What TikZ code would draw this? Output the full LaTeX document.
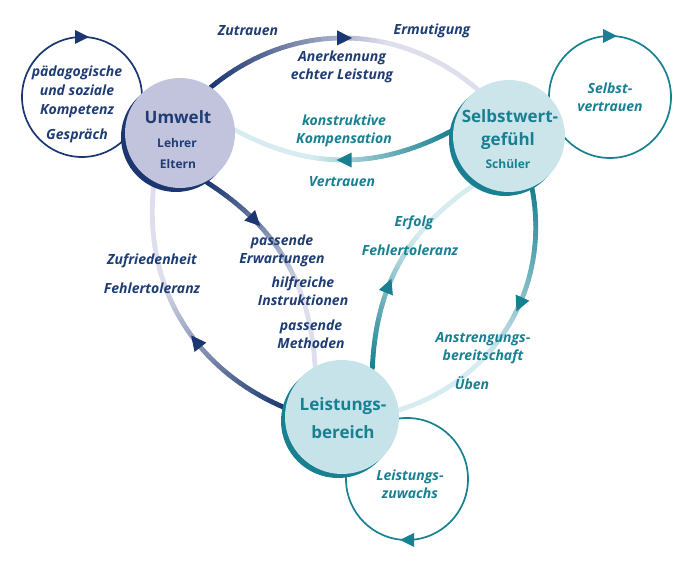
\documentclass[tikz,border=0pt]{standalone}
\usepackage{fontspec}
\setmainfont{Open Sans}
\usetikzlibrary{shadows,backgrounds,decorations.markings}

\definecolor{navy}{RGB}{27,54,112}
\definecolor{navytext}{RGB}{31,61,115}
\definecolor{lavlight}{RGB}{222,222,236}
\definecolor{teal}{RGB}{24,128,145}
\definecolor{teallight}{RGB}{214,236,240}
\definecolor{umfill}{RGB}{194,196,222}
\definecolor{swfill}{RGB}{203,229,235}
\definecolor{lbfill}{RGB}{198,227,233}

\tikzset{
	bubble/.style={circle, inner sep=0pt},
	title/.style={font=\bfseries\fontsize{17}{19}\selectfont},
	subtitle/.style={font=\bfseries\fontsize{12}{14}\selectfont},
	lbl/.style={font=\bfseries\itshape\fontsize{14}{18}\selectfont, align=center},
	link/.style={line width=4.8pt, line cap=round},
	loopline/.style={line width=1.7pt},
}

% fading connector: from, to, bend, dark colour, light colour, arrow position
\newcommand\fadelink[6]{%
	\foreach \k [evaluate={\k as \t using \k/40}] in {0,...,40}
		\path (#1) to[bend left=#3] coordinate[pos=\t] (f\k) (#2);
	\foreach \k [evaluate={\k as \p using int(max(0,100-3.85*\k))},
		evaluate={\k as \n using int(\k+1)}] in {0,...,39}
		\draw[link, #4!\p!#5] (f\k) -- (f\n);
	\path[decorate, decoration={markings, mark=at position #6 with
		{\fill[#4] (7.5pt,0) -- (-7.5pt,7.5pt) -- (-7.5pt,-7.5pt) -- cycle;}}]
		(#1) to[bend left=#3] (#2);
}

\begin{document}
\begin{tikzpicture}[x=1pt, y=1pt]

	\useasboundingbox (0,0) rectangle (694,572);

	% the three areas
	\node[bubble, fill=umfill, minimum size=110pt,
		drop shadow={shadow xshift=-4pt, shadow yshift=-4pt, fill=navy, opacity=1}]
		(um) at (180,439) {};
	\node[bubble, fill=swfill, minimum size=112pt,
		drop shadow={shadow xshift=-4pt, shadow yshift=-4pt, fill=teal, opacity=1}]
		(sw) at (509,436) {};
	\node[bubble, fill=lbfill, minimum size=114pt,
		drop shadow={shadow xshift=-4pt, shadow yshift=-4pt, fill=teal, opacity=1}]
		(lb) at (342,155) {};

	\node[title, text=navytext] (umT) at (178,455) {Umwelt};
	\node[subtitle, text=navytext] (umA) at (177,429) {Lehrer};
	\node[subtitle, text=navytext] (umB) at (178,408) {Eltern};
	\node[title, text=teal] (swT) at (510,456) {Selbstwert-};
	\node[title, text=teal] (swU) at (508,431) {gefühl};
	\node[subtitle, text=teal] (swA) at (508,408) {Schüler};
	\node[title, text=teal] (lbT) at (343,166) {Leistungs-};
	\node[title, text=teal] (lbU) at (343,140) {bereich};

	% loops
	\coordinate (lpum) at (82,475);
	\coordinate (lpsw) at (610,475);
	\coordinate (lplb) at (407,93);

	\begin{scope}[on background layer]
		\fadelink{um.56}{sw.124}{40}{navy}{lavlight}{0.5}
		\fadelink{sw.174}{um.3}{28}{teal}{teallight}{0.5}
		\fadelink{um.-62}{lb.118}{27}{navy}{lavlight}{0.28}
		\fadelink{lb.171}{um.242}{37}{navy}{lavlight}{0.4}
		\fadelink{sw.-66}{lb.7}{42}{teal}{teallight}{0.42}
		\fadelink{lb.58}{sw.236}{27}{teal}{teallight}{0.38}

		\draw[loopline, navy] (lpum) circle[radius=60];
		\fill[navy] (lpum) ++(7,60) -- ++(-14,7) -- ++(0,-14) -- cycle;
		\draw[loopline, teal] (lpsw) circle[radius=61];
		\fill[teal] (lpsw) ++(7,61) -- ++(-14,7) -- ++(0,-14) -- cycle;
		\draw[loopline, teal] (lplb) circle[radius=61];
		\fill[teal] (lplb) ++(-7,-61) -- ++(14,7) -- ++(0,-14) -- cycle;
	\end{scope}

	% labels
	\node[lbl, text=navytext] (l1) at (248,541) {Zutrauen};
	\node[lbl, text=navytext] (l2) at (432,541) {Ermutigung};
	\node[lbl, text=navytext] (l3) at (342,505) {Anerkennung\\echter Leistung};
	\node[lbl, text=teal] (l4) at (344,441) {konstruktive\\Kompensation};
	\node[lbl, text=teal] (l5) at (342,390) {Vertrauen};
	\node[lbl, text=navytext, font=\bfseries\itshape\fontsize{14}{19}\selectfont]
		(l6) at (77,480) {pädagogische\\und soziale\\Kompetenz};
	\node[lbl, text=navytext] (l7) at (77,436) {Gespräch};
	\node[lbl, text=teal] (l8) at (610,475) {Selbst-\\vertrauen};
	\node[lbl, text=navytext] (l9) at (282,321) {passende\\Erwartungen};
	\node[lbl, text=navytext] (l10) at (303,281) {hilfreiche\\Instruktionen};
	\node[lbl, text=navytext] (l11) at (311,238) {passende\\Methoden};
	\node[lbl, text=navytext] (l12) at (152,311) {Zufriedenheit};
	\node[lbl, text=navytext] (l13) at (152,284) {Fehlertoleranz};
	\node[lbl, text=teal] (l14) at (414,349) {Erfolg};
	\node[lbl, text=teal] (l15) at (410,322) {Fehlertoleranz};
	\node[lbl, text=teal] (l16) at (483,224) {Anstrengungs-\\bereitschaft};
	\node[lbl, text=teal] (l17) at (472,189) {Üben};
	\node[lbl, text=teal] (l18) at (410,88) {Leistungs-\\zuwachs};

\end{tikzpicture}
\end{document}
